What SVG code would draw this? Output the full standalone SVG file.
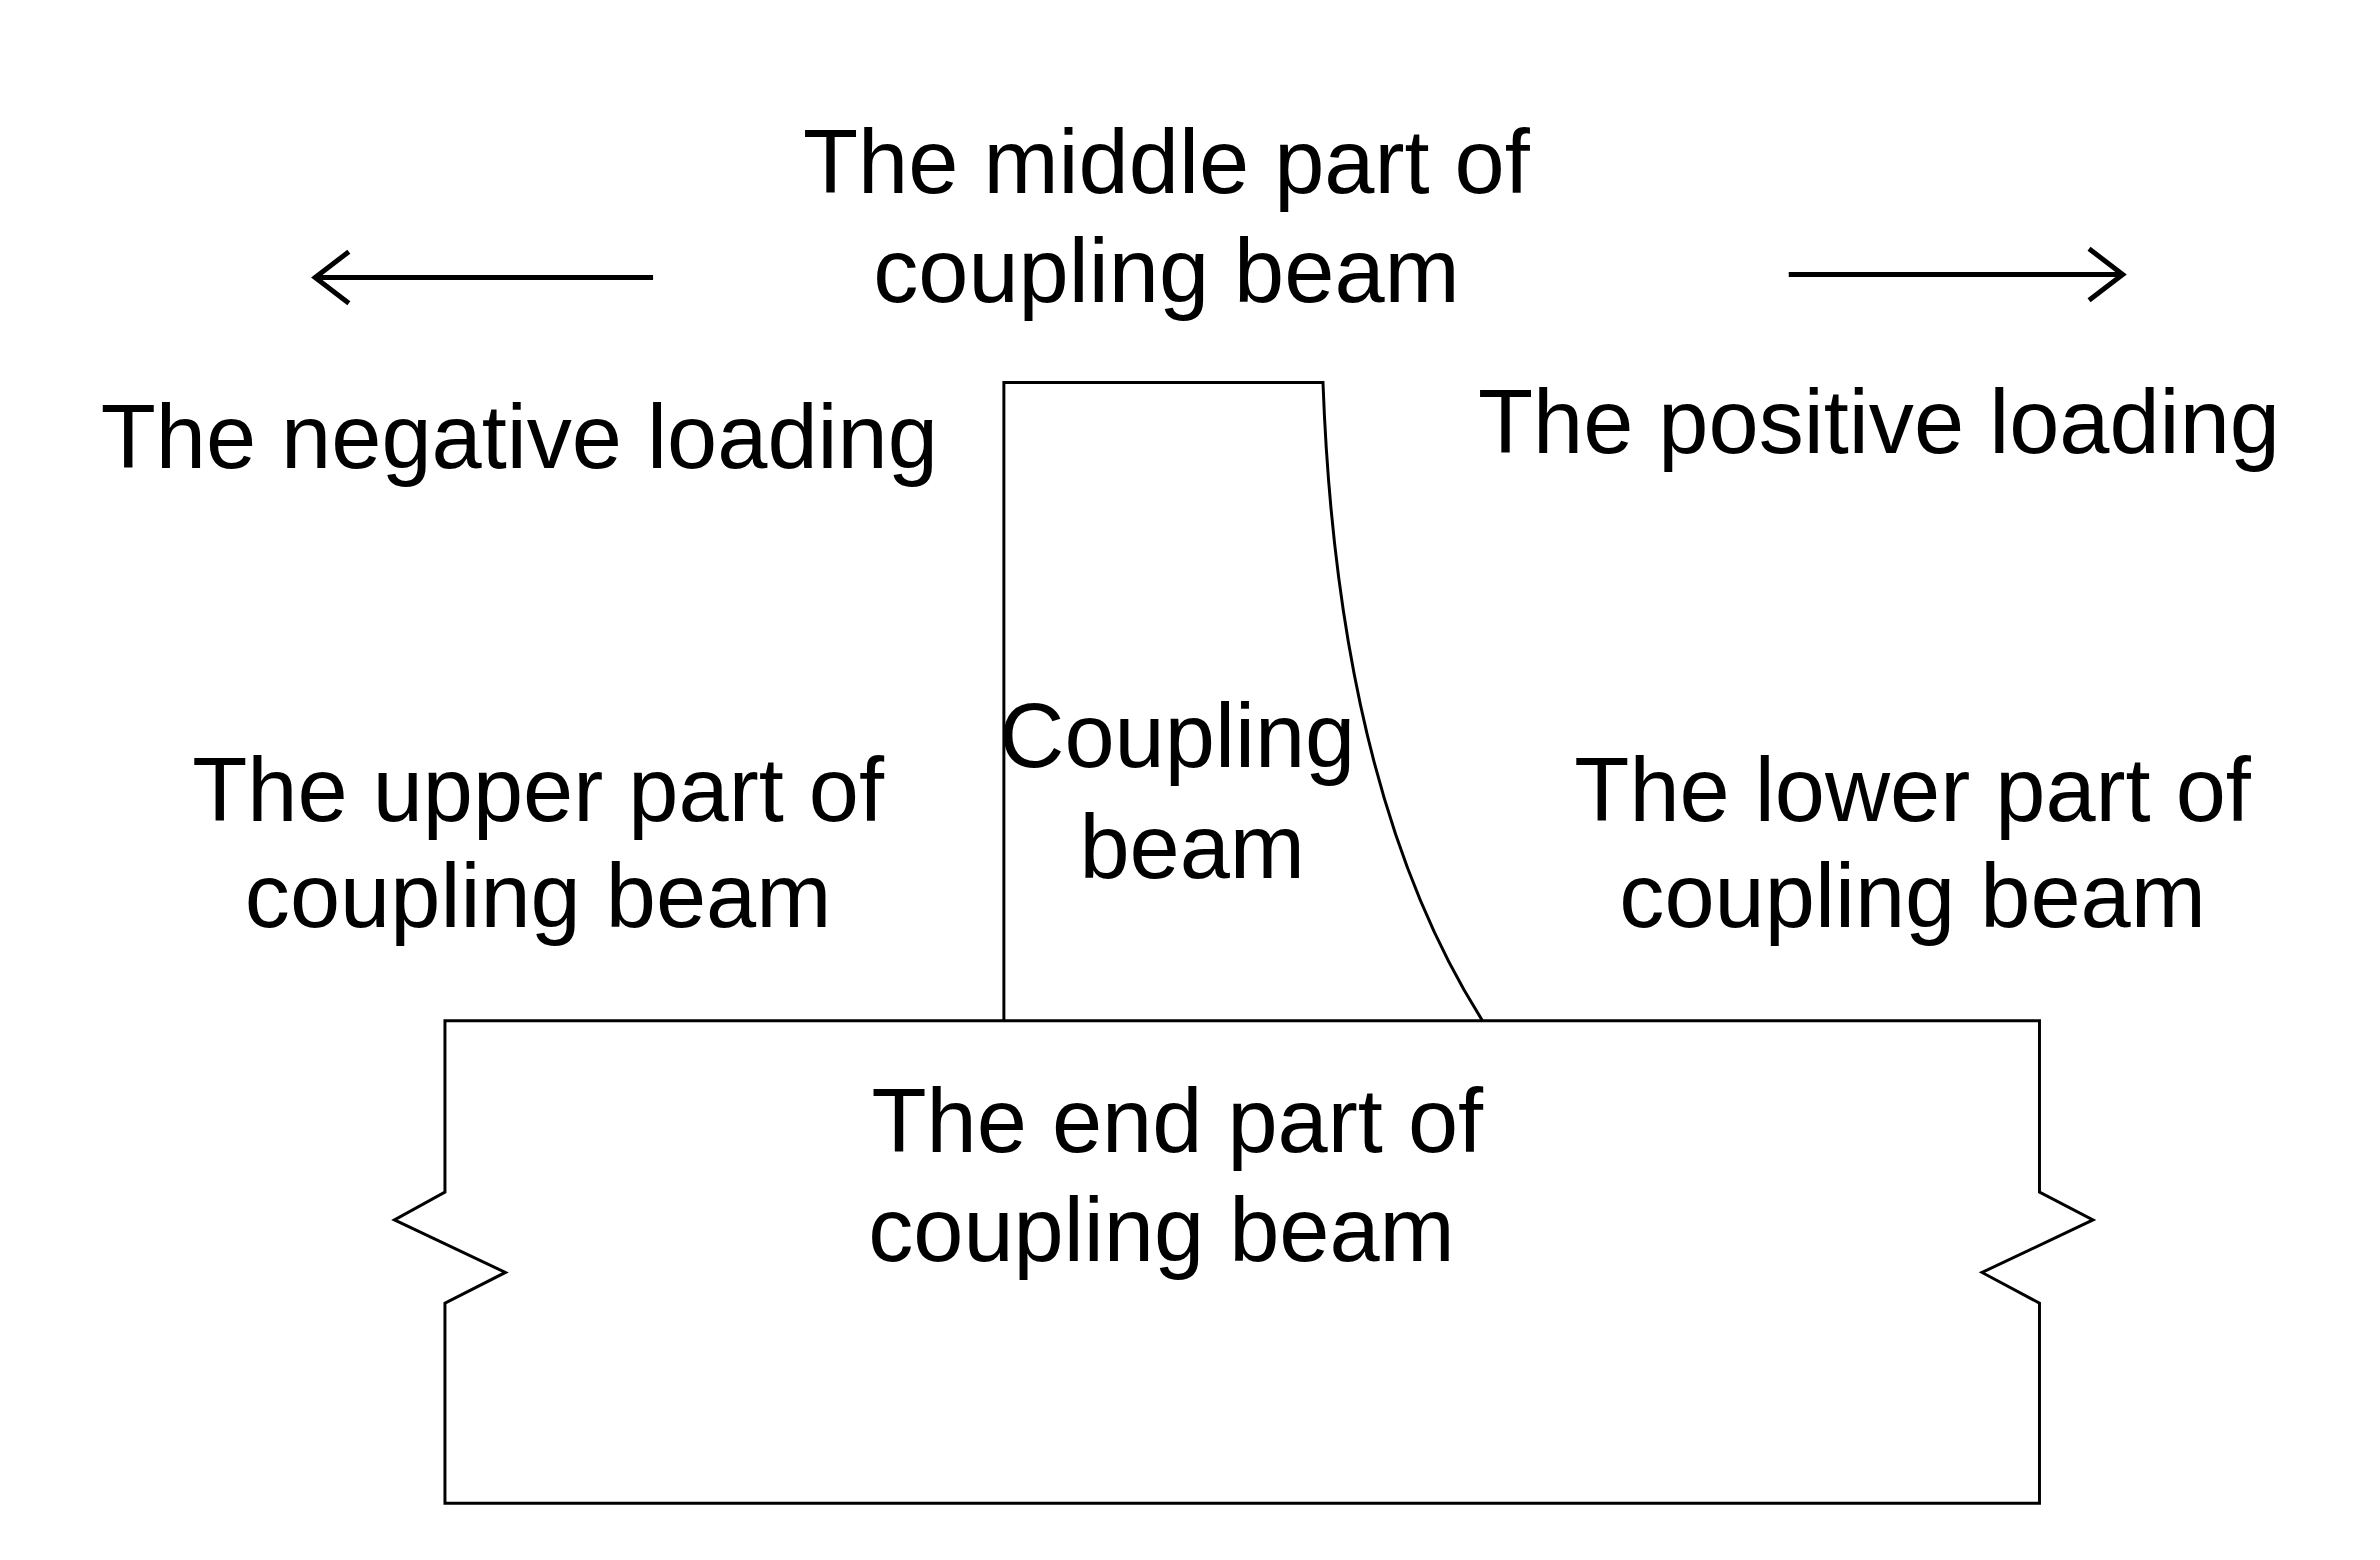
<svg xmlns="http://www.w3.org/2000/svg" width="2380" height="1560" viewBox="0 0 2380 1560">
<style>
.t{font-family:"Liberation Sans",Arial,sans-serif;font-size:91px;fill:#000;text-anchor:middle}
.s{fill:none;stroke:#000;stroke-width:3}
.a{fill:none;stroke:#000;stroke-width:5}
</style>
<rect width="2380" height="1560" fill="#fff"/>
<g transform="scale(0.991)">
<g id="base"><path class="s" d="M449,1030 H2058 V1203 L2112,1231 L2000,1284 L2058,1315 V1517 H449 V1315 L510,1284 L398,1231 L449,1203 Z"/>
<text class="t" x="1188" y="1162">The end part of</text><text class="t" x="1172" y="1272">coupling beam</text></g>
<g id="beam"><path class="s" d="M1013,1030 V386 H1335 Q1350,800 1496,1030"/>
<text class="t" x="1188" y="774">Coupling</text><text class="t" x="1203" y="886">beam</text></g>
<g id="connectors">
<path class="a" d="M659,280 H318 M352,254 L318,280 L352,306"/>
<path class="a" d="M1805,277 H2142 M2108,251 L2142,277 L2108,303"/>
</g>
<g id="labels">
<text class="t" x="1177" y="195">The middle part of</text><text class="t" x="1177" y="305">coupling beam</text>
<text class="t" x="524" y="472">The negative loading</text>
<text class="t" x="1896" y="457">The positive loading</text>
<text class="t" x="543" y="828">The upper part of</text><text class="t" x="543" y="935">coupling beam</text>
<text class="t" x="1930" y="828">The lower part of</text><text class="t" x="1930" y="935">coupling beam</text>
</g>
</g>
</svg>
